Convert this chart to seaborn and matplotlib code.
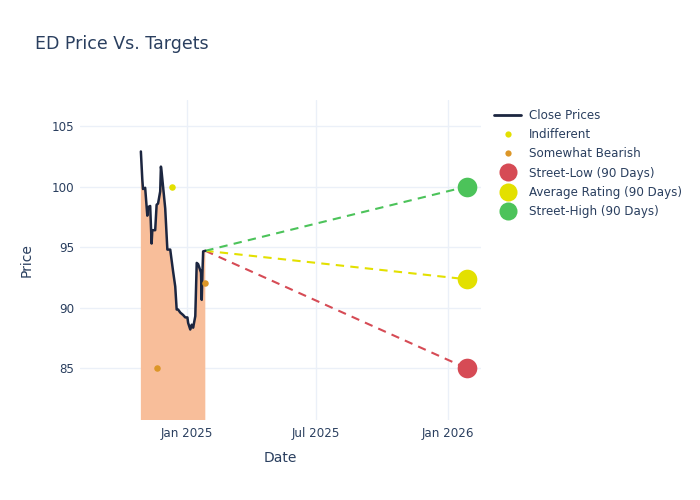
import matplotlib
matplotlib.use("Agg")
import matplotlib.pyplot as plt
import matplotlib.dates as mdates
from matplotlib.lines import Line2D
import seaborn as sns
import pandas as pd

# ---- data ----
close_dates = [
    "2024-10-29", "2024-10-31", "2024-11-01", "2024-11-04", "2024-11-07", "2024-11-08",
    "2024-11-11", "2024-11-13", "2024-11-14", "2024-11-18", "2024-11-20", "2024-11-22",
    "2024-11-25", "2024-11-26", "2024-11-27", "2024-12-02", "2024-12-05", "2024-12-09",
    "2024-12-13", "2024-12-16", "2024-12-18", "2024-12-20", "2024-12-23", "2024-12-27",
    "2024-12-30", "2025-01-02", "2025-01-03", "2025-01-06", "2025-01-08", "2025-01-10",
    "2025-01-13", "2025-01-15", "2025-01-17", "2025-01-21", "2025-01-22", "2025-01-23",
    "2025-01-24", "2025-01-27",
]
close_prices = [
    102.9, 100.6, 99.8, 99.9, 97.6, 98.3,
    98.4, 95.3, 96.4, 96.4, 98.5, 98.6,
    99.6, 101.65, 101.2, 98.2, 94.8, 94.8,
    93.0, 91.75, 89.85, 89.85, 89.6, 89.4,
    89.2, 89.2, 88.75, 88.2, 88.6, 88.35,
    89.3, 93.7, 93.6, 92.9, 90.65, 92.9,
    94.65, 94.7,
]
indifferent_dates = ["2024-12-11"]
indifferent_prices = [100.0]
bearish_dates = ["2024-11-21", "2025-01-27"]
bearish_prices = [85.0, 92.0]

target_date = "2026-01-27"
target_labels = ["Street-Low (90 Days)", "Average Rating (90 Days)", "Street-High (90 Days)"]
target_values = [85.0, 92.35, 100.0]

# ---- styles ----
TEXT = "#2a3f5f"
GRID = "#EBF0F8"
LINE_C = "#1c2640"
FILL_C = "#F8BE9A"
IND_C = "#E3E000"
BEAR_C = "#DC9628"
target_colors = ["#D64B55", "#E3E000", "#4CC35A"]

sns.set_theme(style="white")
plt.rcParams["font.family"] = ["DejaVu Sans"]
plt.rcParams["text.color"] = TEXT

fig = plt.figure(figsize=(7, 5), dpi=100)
ax = fig.add_axes([80 / 700, 80 / 500, 401 / 700, 320 / 500])

close_df = pd.DataFrame({"Date": pd.to_datetime(close_dates), "Price": close_prices})
ind_df = pd.DataFrame({"Date": pd.to_datetime(indifferent_dates), "Price": indifferent_prices})
bear_df = pd.DataFrame({"Date": pd.to_datetime(bearish_dates), "Price": bearish_prices})

last_date = close_df["Date"].iloc[-1]
last_price = close_df["Price"].iloc[-1]
tdate = pd.to_datetime(target_date)

ax.fill_between(close_df["Date"], close_df["Price"], 0, color=FILL_C, lw=0, zorder=1)
sns.lineplot(data=close_df, x="Date", y="Price", ax=ax, color=LINE_C, lw=1.8, zorder=3,
             legend=False)

for lab, val, col in zip(target_labels, target_values, target_colors):
    tdf = pd.DataFrame({"Date": [last_date, tdate], "Price": [last_price, val]})
    sns.lineplot(data=tdf, x="Date", y="Price", ax=ax, color=col, lw=1.5,
                 dashes=False, linestyle=(0, (4, 3)), zorder=2, legend=False)
    sns.scatterplot(x=[tdate], y=[val], ax=ax, color=col, s=200, linewidth=0, zorder=5,
                    legend=False)

sns.scatterplot(data=ind_df, x="Date", y="Price", ax=ax, color=IND_C, s=22, linewidth=0,
                zorder=4, legend=False)
sns.scatterplot(data=bear_df, x="Date", y="Price", ax=ax, color=BEAR_C, s=22, linewidth=0,
                zorder=4, legend=False)

ax.set_xlim(pd.Timestamp("2024-08-05"), pd.Timestamp("2026-02-16"))
ax.set_ylim(80.73, 107.15)
ax.set_yticks([85, 90, 95, 100, 105])
ax.set_xticks(pd.to_datetime(["2025-01-01", "2025-07-01", "2026-01-01"]))
ax.xaxis.set_major_formatter(mdates.DateFormatter("%b %Y"))
ax.grid(True, color=GRID, lw=1)
ax.set_axisbelow(True)
for s in ax.spines.values():
    s.set_visible(False)
ax.tick_params(axis="both", length=0, labelsize=8.6, colors=TEXT)
ax.tick_params(axis="y", pad=4)
ax.tick_params(axis="x", pad=5)
ax.set_xlabel("Date", fontsize=10, color=TEXT, labelpad=8)
ax.set_ylabel("Price", fontsize=10, color=TEXT, labelpad=13)

fig.text(35 / 700, 1 - 44 / 500, "ED Price Vs. Targets", fontsize=12.5, color=TEXT,
         ha="left", va="center")

handles = [
    Line2D([], [], color=LINE_C, lw=2),
    Line2D([], [], color=IND_C, marker="o", ls="", markersize=4.5, markeredgewidth=0),
    Line2D([], [], color=BEAR_C, marker="o", ls="", markersize=4.5, markeredgewidth=0),
] + [Line2D([], [], color=c, marker="o", ls="", markersize=13, markeredgewidth=0)
     for c in target_colors]
labels = ["Close Prices", "Indifferent", "Somewhat Bearish"] + target_labels
leg = fig.legend(handles, labels, loc="upper left", bbox_to_anchor=(494 / 700, 1 - 109 / 500),
                 frameon=False, fontsize=8.6, handlelength=2.3, handletextpad=0.65,
                 labelspacing=0.52, borderaxespad=0, borderpad=0)
for t in leg.get_texts():
    t.set_color(TEXT)

fig.savefig("out.png", dpi=100)
